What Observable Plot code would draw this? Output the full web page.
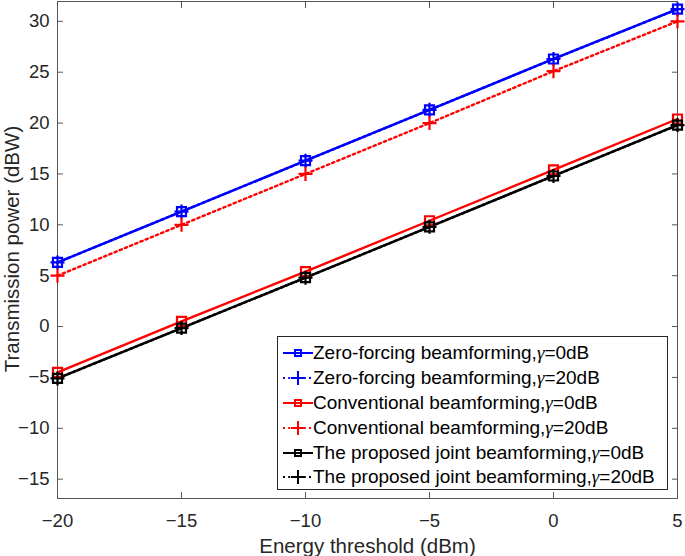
<!DOCTYPE html>
<html><head><meta charset="utf-8">
<script src="https://cdn.jsdelivr.net/npm/d3@7"></script>
<script src="https://cdn.jsdelivr.net/npm/@observablehq/plot@0.6"></script>
<style>
body{margin:0;background:#fff;}
#wrap{position:relative;width:685px;height:556px;font-family:"Liberation Sans",Arial,sans-serif;}
#legend{position:absolute;left:277px;top:336px;width:391px;height:154px;box-sizing:border-box;border:1px solid #262626;background:#fff;padding-top:4px;}
.row{display:flex;align-items:center;height:24.8px;font-size:19px;color:#000;white-space:nowrap;}
.row svg{margin-left:5px;margin-right:0px;flex:none}
.g{font-family:"Liberation Serif","DejaVu Serif",serif;font-style:italic;}
</style></head><body><div id="wrap"><div id="legend"></div></div>
<script>
// ---- data ----
const energy = [-20, -15, -10, -5, 0, 5];
const zf0    = [6.3, 11.3, 16.3, 21.3, 26.3, 31.2];
const zf20   = [6.3, 11.3, 16.3, 21.3, 26.3, 31.2];
const conv0  = [-4.5, 0.5, 5.4, 10.4, 15.4, 20.4];
const conv20 = [5.0, 10.0, 15.0, 20.0, 25.1, 30.0];
const prop0  = [-5.1, -0.15, 4.8, 9.8, 14.8, 19.8];
const prop20 = [-5.1, -0.15, 4.8, 9.8, 14.8, 19.8];
const xTicks = [-20, -15, -10, -5, 0, 5];
const yTicks = [-15, -10, -5, 0, 5, 10, 15, 20, 25, 30];
const xLabel = "Energy threshold (dBm)";
const yLabel = "Transmission power (dBW)";
const seriesNames = [
  "Zero-forcing beamforming,", "Zero-forcing beamforming,",
  "Conventional beamforming,", "Conventional beamforming,",
  "The proposed joint beamforming,", "The proposed joint beamforming,"
];
const gammaLabels = ["=0dB", "=20dB", "=0dB", "=20dB", "=0dB", "=20dB"];

// ---- styles ----
const colors = ["#0000ff", "#0000ff", "#ff0000", "#ff0000", "#000000", "#000000"];
const dashed = [false, true, false, true, false, true];
const markers = ["square", "plus", "square", "plus", "square", "plus"];
const values = [zf0, zf20, conv0, conv20, prop0, prop20];

const squareSym = {draw(ctx, size){ const h = Math.sqrt(size/Math.PI); ctx.moveTo(-h,-h); ctx.lineTo(h,-h); ctx.lineTo(h,h); ctx.lineTo(-h,h); ctx.closePath(); }};
const plusSym = {draw(ctx, size){ const h = Math.sqrt(size/Math.PI); ctx.moveTo(-h,0); ctx.lineTo(h,0); ctx.moveTo(0,-h); ctx.lineTo(0,h); }};

const marks = [];
values.forEach((vals, i) => {
  const data = energy.map((e, j) => ({x: e, y: vals[j]}));
  marks.push(Plot.line(data, {x: "x", y: "y", stroke: colors[i], strokeWidth: 2.4,
    strokeDasharray: dashed[i] ? "2.4,3.2" : null}));
});
values.forEach((vals, i) => {
  const data = energy.map((e, j) => ({x: e, y: vals[j]}));
  const sq = markers[i] === "square";
  marks.push(Plot.dot(data, {x: "x", y: "y", symbol: sq ? squareSym : plusSym, r: sq ? 4.5 : 7,
    stroke: colors[i], fill: "none", strokeWidth: 2.2}));
});

const chart = Plot.plot({
  width: 685, height: 556,
  marginLeft: 57, marginRight: 8, marginTop: 1, marginBottom: 58,
  style: {fontFamily: "'Liberation Sans', Arial, sans-serif", fontSize: "18.5px", color: "#262626", background: "#fff"},
  x: {domain: [-20, 5]},
  y: {domain: [-16.9, 31.95]},
  marks: [
    Plot.frame({stroke: "#555", strokeWidth: 1}),
    Plot.axisX(xTicks, {anchor: "bottom", tickSize: -6, tickPadding: 21, stroke: "#555", fontSize: 18.5, label: null}),
    Plot.axisX(xTicks, {anchor: "top", tickSize: -6, tickFormat: () => "", label: null, stroke: "#555"}),
    Plot.axisY(yTicks, {anchor: "left", tickSize: -6, tickPadding: 14, stroke: "#555", fontSize: 18.5, label: null}),
    Plot.axisY(yTicks, {anchor: "right", tickSize: -6, tickFormat: () => "", label: null, stroke: "#555"}),
    Plot.text([xLabel], {frameAnchor: "bottom", dy: 54, lineAnchor: "bottom", textAnchor: "middle", fontSize: 20.5, fill: "#262626"}),
    Plot.text([yLabel], {frameAnchor: "left", dx: -53, dy: -1, rotate: -90, lineAnchor: "top", textAnchor: "middle", fontSize: 20.5, fill: "#262626"}),
    ...marks
  ]
});
const wrap = document.getElementById("wrap");
wrap.insertBefore(chart, wrap.firstChild);

// ---- legend ----
const legend = document.getElementById("legend");
const ns = "http://www.w3.org/2000/svg";
seriesNames.forEach((name, i) => {
  const row = document.createElement("div");
  row.className = "row";
  const svg = document.createElementNS(ns, "svg");
  svg.setAttribute("width", 30); svg.setAttribute("height", 20);
  const line = document.createElementNS(ns, "line");
  line.setAttribute("x1", 0); line.setAttribute("x2", 30); line.setAttribute("y1", 10); line.setAttribute("y2", 10);
  line.setAttribute("stroke", colors[i]); line.setAttribute("stroke-width", 2);
  if (dashed[i]) line.setAttribute("stroke-dasharray", "2,3.2");
  svg.appendChild(line);
  const m = document.createElementNS(ns, "path");
  m.setAttribute("d", markers[i] === "square" ? "M12,7H18V13H12Z" : "M8,10H22M15,3V17");
  m.setAttribute("fill", "none"); m.setAttribute("stroke", colors[i]); m.setAttribute("stroke-width", 2);
  svg.appendChild(m);
  row.appendChild(svg);
  const t = document.createElement("span");
  t.innerHTML = name + '<span class="g">γ</span>' + gammaLabels[i];
  row.appendChild(t);
  legend.appendChild(row);
});
</script>
</body></html>
